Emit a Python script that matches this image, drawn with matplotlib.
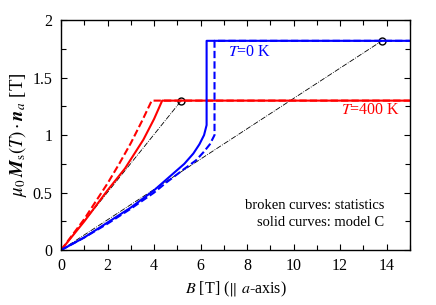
import numpy as np
import matplotlib
matplotlib.use("Agg")
from matplotlib import pyplot as plt
from matplotlib.ticker import MultipleLocator, FuncFormatter

plt.rcParams['font.family'] = ['Liberation Serif', 'DejaVu Serif']
plt.rcParams['mathtext.fontset'] = 'stix'
plt.rcParams['font.size'] = 11.5

# T = 0 K curves (blue)
b0_model = [0, 1, 2, 3, 4, 4.83, 5.3, 5.69, 5.95, 6.15, 6.26, 6.26, 15]
m0_model = [0, 0.11, 0.24, 0.37, 0.52, 0.667, 0.75, 0.84, 0.92, 1.0, 1.087, 1.82, 1.82]
b0_stat = [0, 1, 2, 3, 4, 4.54, 5.26, 5.8, 6.12, 6.4, 6.6, 6.6, 15]
m0_stat = [0, 0.11, 0.23, 0.36, 0.5, 0.59, 0.70, 0.78, 0.85, 0.92, 1.0, 1.82, 1.82]

# T = 400 K curves (red)
b400_model = [0, 1, 2, 2.75, 3.54, 4.0, 4.35, 15]
m400_model = [0, 0.25, 0.52, 0.71, 0.96, 1.14, 1.30, 1.30]
b400_stat = [0, 1, 2, 2.5, 3, 3.5, 3.9, 15]
m400_stat = [0, 0.27, 0.58, 0.75, 0.93, 1.13, 1.30, 1.30]

# reference points (circles) and lines from origin
ref_b = [5.17, 13.8]
ref_m = [1.30, 1.82]

fig = plt.figure(figsize=(4.36, 3.05), dpi=100)
ax = fig.add_axes([0.140, 0.180, 0.800, 0.754])

for b, m in zip(ref_b, ref_m):
    ax.plot([0, b], [0, m], color='black', lw=0.6, ls='-.')
ax.plot(ref_b, ref_m, 'o', mfc='none', mec='black', ms=5, mew=1.0)

ax.plot(b400_stat, m400_stat, color='red', lw=1.5, ls=(0, (3.5, 1.5)))
ax.plot(b400_model, m400_model, color='red', lw=1.5)
ax.plot(b0_stat, m0_stat, color='blue', lw=1.5, ls=(0, (3.5, 1.5)))
ax.plot(b0_model, m0_model, color='blue', lw=1.5)

ax.text(7.2, 1.72, '$T$=0 K', color='blue', va='center', ha='left')
ax.text(14.6, 1.22, '$T$=400 K', color='red', va='center', ha='right')
ax.text(13.9, 0.39, 'broken curves: statistics', va='center', ha='right', fontsize=10.5)
ax.text(13.9, 0.24, 'solid curves: model C', va='center', ha='right', fontsize=10.5)

ax.set_xlim(0, 15)
ax.set_ylim(0, 2)
ax.xaxis.set_major_locator(MultipleLocator(2))
ax.xaxis.set_minor_locator(MultipleLocator(1))
ax.yaxis.set_major_locator(MultipleLocator(0.5))
ax.yaxis.set_minor_locator(MultipleLocator(0.25))
ax.yaxis.set_major_formatter(FuncFormatter(lambda v, p: '%g' % v))
ax.tick_params(which='both', direction='in', top=True, right=True, width=0.8)
ax.tick_params(which='major', length=4, pad=6)
ax.tick_params(which='minor', length=3.5)
for s in ax.spines.values():
    s.set_linewidth(1.0)

ax.set_xlabel(r'$B$ [T] ($\|$ $a$-axis)')
ax.set_ylabel(r'$\mu_0\, \boldsymbol{M}_\mathrm{s}(T)\cdot\boldsymbol{n}_a$ [T]',
              fontsize=13.5, labelpad=3)

fig.savefig('out.png', dpi=100)
